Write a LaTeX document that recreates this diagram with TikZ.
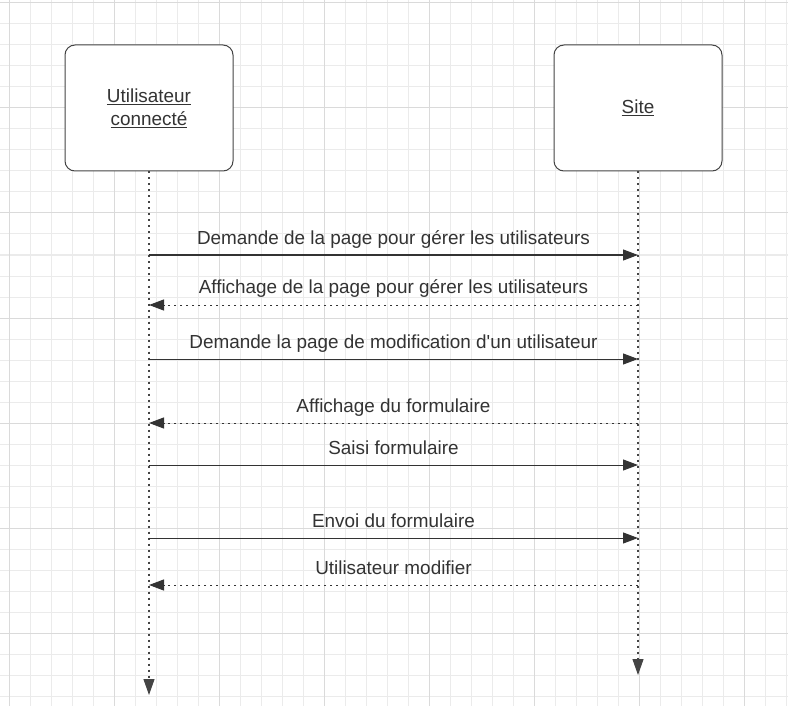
\documentclass[tikz,border=0pt]{standalone}
\usepackage{fontspec}
\setmainfont{Liberation Sans}
\usepackage{tikz}
\usetikzlibrary{arrows.meta,positioning,calc}
\definecolor{inkgray}{HTML}{333333}
\definecolor{boxgray}{HTML}{444444}
\definecolor{gridminor}{HTML}{EBEBEB}
\definecolor{gridmajor}{HTML}{DADADA}

\begin{document}
\begin{tikzpicture}[
    x=1pt, y=-1pt,
    actor/.style={rectangle, rounded corners=10pt, draw=boxgray, fill=white, line width=1pt, minimum width=168pt, minimum height=126pt, align=center, font=\fontsize{18.9}{23}\selectfont, text=inkgray},
    lifeline/.style={draw=boxgray, line width=1.1pt, dash pattern=on 2pt off 4pt, -{Triangle[length=16pt,width=11pt]}},
    call/.style={draw=inkgray, line width=1pt, -{Triangle[length=15pt,width=11pt]}},
    reply/.style={draw=inkgray, line width=1pt, dash pattern=on 2pt off 4pt, -{Triangle[length=15pt,width=11pt]}},
    msglabel/.style={midway, anchor=base, yshift=11pt, inner sep=0pt, text=inkgray, font=\fontsize{18.9}{23}\selectfont}
]

% Background grid
\useasboundingbox (0,0) rectangle (788,706);
\fill[white] (0,0) rectangle (788,706);
\foreach \k in {0,...,37} {
  \draw[gridminor, line width=1pt] (9+21*\k,0) -- (9+21*\k,706);
}
\foreach \k in {0,...,33} {
  \draw[gridminor, line width=1pt] (0,3+21*\k) -- (788,3+21*\k);
}
\foreach \k in {0,5,...,35} {
  \draw[gridmajor, line width=1pt] (9+21*\k,0) -- (9+21*\k,706);
}
\foreach \k in {0,5,...,30} {
  \draw[gridmajor, line width=1pt] (0,3+21*\k) -- (788,3+21*\k);
}

% Participants
\node[actor] (user) at (149,108) {\raisebox{2pt}{\underline{Utilisateur}}\\\raisebox{2pt}{\underline{connecté}}};
\node[actor] (site) at (638,108) {\underline{Site}};

% Lifelines
\coordinate (userEnd) at (149,695);
\coordinate (siteEnd) at (638,675);
\draw[lifeline] (user.south) -- (userEnd);
\draw[lifeline] (site.south) -- (siteEnd);

% Message anchors
\coordinate (u1) at (149,255); \coordinate (s1) at (638,255);
\coordinate (u2) at (149,305); \coordinate (s2) at (638,305);
\coordinate (u3) at (149,359); \coordinate (s3) at (638,359);
\coordinate (u4) at (149,423); \coordinate (s4) at (638,423);
\coordinate (u5) at (149,465); \coordinate (s5) at (638,465);
\coordinate (u6) at (149,538); \coordinate (s6) at (638,538);
\coordinate (u7) at (149,585); \coordinate (s7) at (638,585);

% Messages
\draw[call] (u1) -- (s1) node[msglabel] {Demande de la page pour gérer les utilisateurs};
\draw[reply] (s2) -- (u2) node[msglabel] {Affichage de la page pour gérer les utilisateurs};
\draw[call] (u3) -- (s3) node[msglabel] {Demande la page de modification d\textquotesingle un utilisateur};
\draw[reply] (s4) -- (u4) node[msglabel] {Affichage du formulaire};
\draw[call] (u5) -- (s5) node[msglabel] {Saisi formulaire};
\draw[call] (u6) -- (s6) node[msglabel] {Envoi du formulaire};
\draw[reply] (s7) -- (u7) node[msglabel] {Utilisateur modifier};

\end{tikzpicture}
\end{document}
